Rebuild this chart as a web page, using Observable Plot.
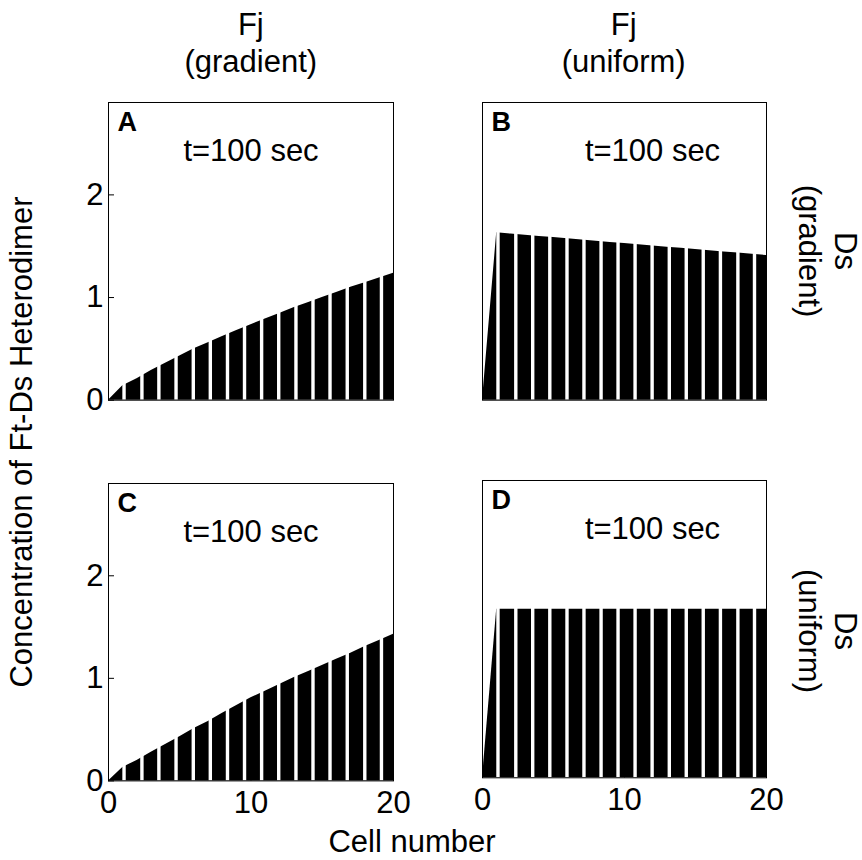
<!DOCTYPE html>
<html><head><meta charset="utf-8">
<script src="https://cdn.jsdelivr.net/npm/d3@7"></script>
<script src="https://cdn.jsdelivr.net/npm/@observablehq/plot@0.6"></script>
<style>
body{margin:0;background:#fff;}
#fig{position:relative;width:862px;height:860px;font-family:"Liberation Sans",Arial,sans-serif;color:#000;overflow:hidden;background:#fff}
.lbl{position:absolute;font-size:31px;line-height:37px;text-align:center;white-space:nowrap}
.rot{position:absolute;font-size:31px;line-height:36px;text-align:center;white-space:nowrap}
.panel{position:absolute}
</style></head><body><div id="fig"></div>
<script>
// Cell positions (boundaries) and concentration values
const cellX   = [0,1,2,3,4,5,6,7,8,9,10,11,12,13,14,15,16,17,18,19,20];
const valuesA = [0,0.14,0.21,0.29,0.36,0.43,0.50,0.56,0.62,0.68,0.735,0.79,0.845,0.90,0.95,1.00,1.05,1.10,1.145,1.19,1.237];
const valuesB = [0,1.630,1.618,1.607,1.595,1.584,1.572,1.560,1.549,1.537,1.526,1.514,1.502,1.491,1.479,1.468,1.456,1.444,1.433,1.421,1.410];
const valuesC = [0,0.13,0.20,0.28,0.355,0.43,0.51,0.58,0.66,0.735,0.81,0.875,0.94,1.005,1.065,1.125,1.185,1.245,1.31,1.37,1.43];
const valuesD = [0,1.645,1.645,1.645,1.645,1.645,1.645,1.645,1.645,1.645,1.645,1.645,1.645,1.645,1.645,1.645,1.645,1.645,1.645,1.645,1.645];
// white separations between cells (x, in cell-number units)
const gapX = [1.09,2.345,3.535,4.74,5.95,7.145,8.35,9.545,10.745,11.945,13.155,14.35,15.545,16.755,17.985,19.155];
const xTicks = [0,10,20];
const yTicks = [0,1,2];
const panelLetters = ["A","B","C","D"];
const timeLabel = "t=100 sec";
const colHeaders = [["Fj","(gradient)"],["Fj","(uniform)"]];
const rowHeaders = [["Ds","(gradient)"],["Ds","(uniform)"]];
const yLabel = "Concentration of Ft-Ds Heterodimer";
const xLabel = "Cell number";

const fig = document.getElementById("fig");
const mL = 40, mT = 10, mR = 20, mB = 50;

function panel(values, o) {
  const data = cellX.map((x, i) => ({x, y: values[i]}));
  const marks = [
    Plot.areaY(data, {x: "x", y: "y", fill: "black", curve: "linear"}),
    Plot.ruleX(gapX, {stroke: "white", strokeWidth: 3.4}),
    Plot.text([o.letter], {frameAnchor: "top-left", dx: 9, dy: 9, textAnchor: "start", lineAnchor: "top", fontWeight: "bold", fontSize: 27}),
    Plot.text([timeLabel], {frameAnchor: "top", dx: o.tdx, dy: 58.4, lineAnchor: "bottom", fontSize: 31}),
  ];
  if (o.yAxis) {
    marks.push(Plot.axisY(yTicks, {anchor: "left", tickSize: -6, tickPadding: 11, fontSize: 31, label: null, tickFormat: d3.format("d")}));
  }
  if (o.xAxis) {
    marks.push(Plot.axisX(xTicks, {anchor: "bottom", tickSize: -6, tickPadding: 16, fontSize: 31, label: null, tickFormat: d3.format("d")}));
  }
  marks.push(Plot.frame({stroke: "black", strokeWidth: 1}));
  const svg = Plot.plot({
    width: o.w + mL + mR,
    height: o.h + mT + mB,
    marginLeft: mL, marginRight: mR, marginTop: mT, marginBottom: mB,
    x: {domain: [0, 20], axis: o.xAxis ? undefined : null},
    y: {domain: [0, 2.9], axis: o.yAxis ? undefined : null},
    style: {fontFamily: "'Liberation Sans', Arial, sans-serif", fontSize: "31px", background: "transparent", overflow: "visible", color: "black"},
    marks
  });
  svg.classList.add("panel");
  svg.style.left = (o.left - mL) + "px";
  svg.style.top = (o.top - mT) + "px";
  fig.appendChild(svg);
}

panel(valuesA, {letter: panelLetters[0], left: 108.3, top: 102.3, w: 285, h: 297.7, tdx: 0, yAxis: true, xAxis: false});
panel(valuesB, {letter: panelLetters[1], left: 481.7, top: 102.3, w: 284, h: 297.7, tdx: 28, yAxis: false, xAxis: false});
panel(valuesC, {letter: panelLetters[2], left: 108.3, top: 483.3, w: 285, h: 297.4, tdx: 0, yAxis: true, xAxis: true});
panel(valuesD, {letter: panelLetters[3], left: 481.7, top: 480, w: 284, h: 297.3, tdx: 28, yAxis: false, xAxis: true});

function label(html, cx, top) {
  const d = document.createElement("div");
  d.className = "lbl";
  d.innerHTML = html;
  d.style.left = cx + "px";
  d.style.top = top + "px";
  d.style.transform = "translateX(-50%)";
  fig.appendChild(d);
}
function rotLabel(html, cx, cy, deg) {
  const d = document.createElement("div");
  d.className = "rot";
  d.innerHTML = html;
  d.style.left = cx + "px";
  d.style.top = cy + "px";
  d.style.transform = `translate(-50%,-50%) rotate(${deg}deg)`;
  fig.appendChild(d);
}
label(colHeaders[0].join("<br>"), 250.8, 5.7);
label(colHeaders[1].join("<br>"), 623.7, 5.7);
rotLabel(rowHeaders[0].join("<br>"), 827, 251, 90);
rotLabel(rowHeaders[1].join("<br>"), 827, 631, 90);
rotLabel(yLabel, 22, 442, -90);
label(xLabel, 412, 822.7);
</script></body></html>
